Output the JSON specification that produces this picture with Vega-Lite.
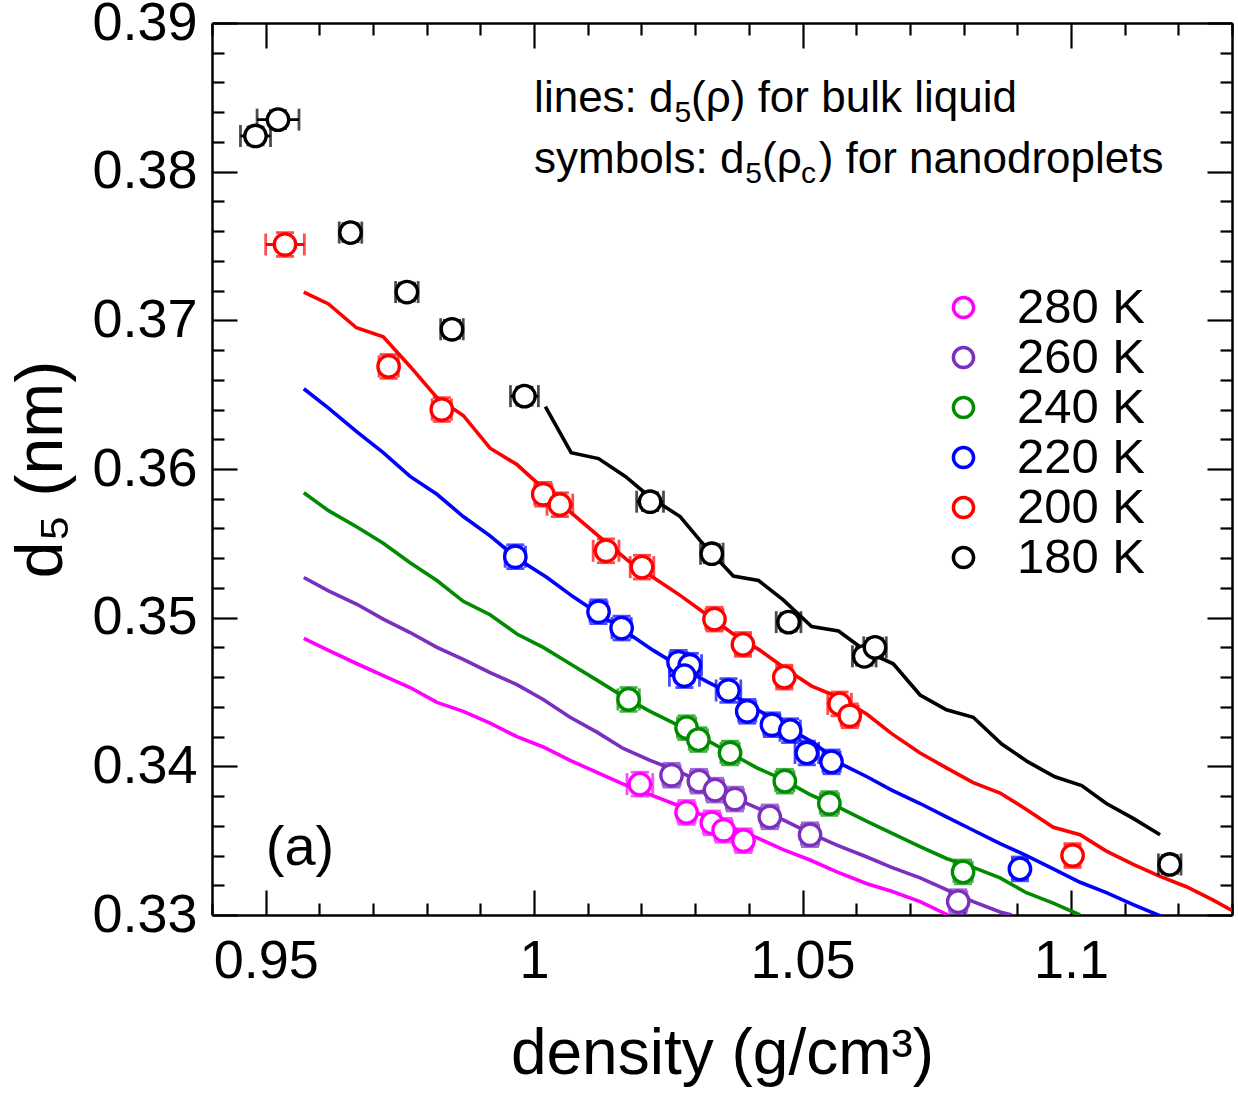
{
  "$schema": "https://vega.github.io/schema/vega-lite/v6.json",
  "autosize": {"type": "none"},
  "padding": {"left": 212, "top": 23, "right": 6, "bottom": 181},
  "width": 1020,
  "height": 892,
  "config": {
    "font": "Liberation Sans",
    "view": {"stroke": null},
    "axis": {"grid": false, "domainColor": "black", "tickColor": "black", "domainWidth": 2.5, "tickWidth": 2.2, "labelColor": "black", "titleColor": "black"},
    "legend": {
      "symbolType": "M-1,0A1,1,0,1,0,1,0A1,1,0,1,0,-1,0ZM-0.7,0A0.7,0.7,0,1,1,0.7,0A0.7,0.7,0,1,1,-0.7,0Z",
      "symbolSize": 560, "symbolStrokeWidth": 0, "symbolOpacity": 1,
      "labelFontSize": 49, "labelColor": "black", "labelOffset": 29, "rowPadding": 0, "padding": 0
    }
  },
  "datasets": {
    "bulk": [
      {"T": "180 K", "rho": 1.0021, "d5": 0.3642},
      {"T": "180 K", "rho": 1.0069, "d5": 0.3611},
      {"T": "180 K", "rho": 1.0120, "d5": 0.3607},
      {"T": "180 K", "rho": 1.0170, "d5": 0.3595},
      {"T": "180 K", "rho": 1.0216, "d5": 0.3581},
      {"T": "180 K", "rho": 1.0272, "d5": 0.3568},
      {"T": "180 K", "rho": 1.0309, "d5": 0.3552},
      {"T": "180 K", "rho": 1.0371, "d5": 0.3528},
      {"T": "180 K", "rho": 1.0418, "d5": 0.3525},
      {"T": "180 K", "rho": 1.0464, "d5": 0.3512},
      {"T": "180 K", "rho": 1.0517, "d5": 0.3494},
      {"T": "180 K", "rho": 1.0567, "d5": 0.3491},
      {"T": "180 K", "rho": 1.0620, "d5": 0.3477},
      {"T": "180 K", "rho": 1.0669, "d5": 0.3469},
      {"T": "180 K", "rho": 1.0719, "d5": 0.3448},
      {"T": "180 K", "rho": 1.0768, "d5": 0.3438},
      {"T": "180 K", "rho": 1.0818, "d5": 0.3433},
      {"T": "180 K", "rho": 1.0871, "d5": 0.3415},
      {"T": "180 K", "rho": 1.0920, "d5": 0.3403},
      {"T": "180 K", "rho": 1.0970, "d5": 0.3393},
      {"T": "180 K", "rho": 1.1020, "d5": 0.3387},
      {"T": "180 K", "rho": 1.1066, "d5": 0.3375},
      {"T": "180 K", "rho": 1.1116, "d5": 0.3365},
      {"T": "180 K", "rho": 1.1166, "d5": 0.3354},

      {"T": "200 K", "rho": 0.9571, "d5": 0.3719},
      {"T": "200 K", "rho": 0.9617, "d5": 0.3711},
      {"T": "200 K", "rho": 0.9669, "d5": 0.3695},
      {"T": "200 K", "rho": 0.9719, "d5": 0.3689},
      {"T": "200 K", "rho": 0.9769, "d5": 0.3669},
      {"T": "200 K", "rho": 0.9819, "d5": 0.3648},
      {"T": "200 K", "rho": 0.9868, "d5": 0.3636},
      {"T": "200 K", "rho": 0.9918, "d5": 0.3614},
      {"T": "200 K", "rho": 0.9968, "d5": 0.3603},
      {"T": "200 K", "rho": 1.0017, "d5": 0.3587},
      {"T": "200 K", "rho": 1.0071, "d5": 0.3570},
      {"T": "200 K", "rho": 1.0123, "d5": 0.3554},
      {"T": "200 K", "rho": 1.0176, "d5": 0.3538},
      {"T": "200 K", "rho": 1.0222, "d5": 0.3527},
      {"T": "200 K", "rho": 1.0272, "d5": 0.3515},
      {"T": "200 K", "rho": 1.0318, "d5": 0.3503},
      {"T": "200 K", "rho": 1.0371, "d5": 0.3489},
      {"T": "200 K", "rho": 1.0421, "d5": 0.3478},
      {"T": "200 K", "rho": 1.0471, "d5": 0.3465},
      {"T": "200 K", "rho": 1.0517, "d5": 0.3454},
      {"T": "200 K", "rho": 1.0570, "d5": 0.3446},
      {"T": "200 K", "rho": 1.0620, "d5": 0.3435},
      {"T": "200 K", "rho": 1.0666, "d5": 0.3422},
      {"T": "200 K", "rho": 1.0719, "d5": 0.3409},
      {"T": "200 K", "rho": 1.0768, "d5": 0.3399},
      {"T": "200 K", "rho": 1.0818, "d5": 0.3389},
      {"T": "200 K", "rho": 1.0868, "d5": 0.3382},
      {"T": "200 K", "rho": 1.0917, "d5": 0.3371},
      {"T": "200 K", "rho": 1.0967, "d5": 0.3359},
      {"T": "200 K", "rho": 1.1017, "d5": 0.3354},
      {"T": "200 K", "rho": 1.1066, "d5": 0.3343},
      {"T": "200 K", "rho": 1.1116, "d5": 0.3334},
      {"T": "200 K", "rho": 1.1166, "d5": 0.3326},
      {"T": "200 K", "rho": 1.1215, "d5": 0.3319},
      {"T": "200 K", "rho": 1.1265, "d5": 0.3310},
      {"T": "200 K", "rho": 1.1315, "d5": 0.3300},

      {"T": "220 K", "rho": 0.9571, "d5": 0.3654},
      {"T": "220 K", "rho": 0.9617, "d5": 0.3641},
      {"T": "220 K", "rho": 0.9670, "d5": 0.3625},
      {"T": "220 K", "rho": 0.9719, "d5": 0.3611},
      {"T": "220 K", "rho": 0.9769, "d5": 0.3595},
      {"T": "220 K", "rho": 0.9819, "d5": 0.3583},
      {"T": "220 K", "rho": 0.9868, "d5": 0.3568},
      {"T": "220 K", "rho": 0.9918, "d5": 0.3555},
      {"T": "220 K", "rho": 0.9968, "d5": 0.3540},
      {"T": "220 K", "rho": 1.0024, "d5": 0.3527},
      {"T": "220 K", "rho": 1.0073, "d5": 0.3514},
      {"T": "220 K", "rho": 1.0123, "d5": 0.3502},
      {"T": "220 K", "rho": 1.0173, "d5": 0.3490},
      {"T": "220 K", "rho": 1.0222, "d5": 0.3478},
      {"T": "220 K", "rho": 1.0272, "d5": 0.3467},
      {"T": "220 K", "rho": 1.0322, "d5": 0.3457},
      {"T": "220 K", "rho": 1.0371, "d5": 0.3448},
      {"T": "220 K", "rho": 1.0421, "d5": 0.3437},
      {"T": "220 K", "rho": 1.0471, "d5": 0.3426},
      {"T": "220 K", "rho": 1.0520, "d5": 0.3416},
      {"T": "220 K", "rho": 1.0570, "d5": 0.3402},
      {"T": "220 K", "rho": 1.0620, "d5": 0.3393},
      {"T": "220 K", "rho": 1.0666, "d5": 0.3384},
      {"T": "220 K", "rho": 1.0719, "d5": 0.3375},
      {"T": "220 K", "rho": 1.0768, "d5": 0.3366},
      {"T": "220 K", "rho": 1.0818, "d5": 0.3357},
      {"T": "220 K", "rho": 1.0868, "d5": 0.3348},
      {"T": "220 K", "rho": 1.0917, "d5": 0.3340},
      {"T": "220 K", "rho": 1.0967, "d5": 0.3331},
      {"T": "220 K", "rho": 1.1017, "d5": 0.3322},
      {"T": "220 K", "rho": 1.1066, "d5": 0.3315},
      {"T": "220 K", "rho": 1.1116, "d5": 0.3307},
      {"T": "220 K", "rho": 1.1169, "d5": 0.3299},

      {"T": "240 K", "rho": 0.9571, "d5": 0.3584},
      {"T": "240 K", "rho": 0.9617, "d5": 0.3572},
      {"T": "240 K", "rho": 0.9670, "d5": 0.3561},
      {"T": "240 K", "rho": 0.9719, "d5": 0.3550},
      {"T": "240 K", "rho": 0.9769, "d5": 0.3537},
      {"T": "240 K", "rho": 0.9819, "d5": 0.3525},
      {"T": "240 K", "rho": 0.9868, "d5": 0.3511},
      {"T": "240 K", "rho": 0.9918, "d5": 0.3502},
      {"T": "240 K", "rho": 0.9968, "d5": 0.3489},
      {"T": "240 K", "rho": 1.0017, "d5": 0.3480},
      {"T": "240 K", "rho": 1.0067, "d5": 0.3469},
      {"T": "240 K", "rho": 1.0117, "d5": 0.3458},
      {"T": "240 K", "rho": 1.0166, "d5": 0.3447},
      {"T": "240 K", "rho": 1.0216, "d5": 0.3437},
      {"T": "240 K", "rho": 1.0266, "d5": 0.3428},
      {"T": "240 K", "rho": 1.0315, "d5": 0.3419},
      {"T": "240 K", "rho": 1.0365, "d5": 0.3409},
      {"T": "240 K", "rho": 1.0415, "d5": 0.3399},
      {"T": "240 K", "rho": 1.0464, "d5": 0.3391},
      {"T": "240 K", "rho": 1.0514, "d5": 0.3381},
      {"T": "240 K", "rho": 1.0564, "d5": 0.3373},
      {"T": "240 K", "rho": 1.0620, "d5": 0.3363},
      {"T": "240 K", "rho": 1.0666, "d5": 0.3355},
      {"T": "240 K", "rho": 1.0719, "d5": 0.3346},
      {"T": "240 K", "rho": 1.0768, "d5": 0.3338},
      {"T": "240 K", "rho": 1.0818, "d5": 0.3332},
      {"T": "240 K", "rho": 1.0868, "d5": 0.3325},
      {"T": "240 K", "rho": 1.0917, "d5": 0.3315},
      {"T": "240 K", "rho": 1.0967, "d5": 0.3308},
      {"T": "240 K", "rho": 1.1017, "d5": 0.3300},

      {"T": "260 K", "rho": 0.9571, "d5": 0.3527},
      {"T": "260 K", "rho": 0.9617, "d5": 0.3518},
      {"T": "260 K", "rho": 0.9670, "d5": 0.3509},
      {"T": "260 K", "rho": 0.9719, "d5": 0.3499},
      {"T": "260 K", "rho": 0.9769, "d5": 0.3490},
      {"T": "260 K", "rho": 0.9819, "d5": 0.3480},
      {"T": "260 K", "rho": 0.9868, "d5": 0.3472},
      {"T": "260 K", "rho": 0.9918, "d5": 0.3463},
      {"T": "260 K", "rho": 0.9968, "d5": 0.3455},
      {"T": "260 K", "rho": 1.0017, "d5": 0.3445},
      {"T": "260 K", "rho": 1.0067, "d5": 0.3433},
      {"T": "260 K", "rho": 1.0117, "d5": 0.3423},
      {"T": "260 K", "rho": 1.0166, "d5": 0.3412},
      {"T": "260 K", "rho": 1.0216, "d5": 0.3404},
      {"T": "260 K", "rho": 1.0266, "d5": 0.3397},
      {"T": "260 K", "rho": 1.0315, "d5": 0.3389},
      {"T": "260 K", "rho": 1.0365, "d5": 0.3380},
      {"T": "260 K", "rho": 1.0415, "d5": 0.3372},
      {"T": "260 K", "rho": 1.0464, "d5": 0.3364},
      {"T": "260 K", "rho": 1.0514, "d5": 0.3355},
      {"T": "260 K", "rho": 1.0564, "d5": 0.3347},
      {"T": "260 K", "rho": 1.0620, "d5": 0.3339},
      {"T": "260 K", "rho": 1.0666, "d5": 0.3332},
      {"T": "260 K", "rho": 1.0719, "d5": 0.3325},
      {"T": "260 K", "rho": 1.0768, "d5": 0.3317},
      {"T": "260 K", "rho": 1.0818, "d5": 0.3309},
      {"T": "260 K", "rho": 1.0868, "d5": 0.3302},
      {"T": "260 K", "rho": 1.0890, "d5": 0.3300},

      {"T": "280 K", "rho": 0.9571, "d5": 0.3486},
      {"T": "280 K", "rho": 0.9617, "d5": 0.3478},
      {"T": "280 K", "rho": 0.9670, "d5": 0.3469},
      {"T": "280 K", "rho": 0.9719, "d5": 0.3461},
      {"T": "280 K", "rho": 0.9769, "d5": 0.3453},
      {"T": "280 K", "rho": 0.9819, "d5": 0.3443},
      {"T": "280 K", "rho": 0.9868, "d5": 0.3437},
      {"T": "280 K", "rho": 0.9918, "d5": 0.3429},
      {"T": "280 K", "rho": 0.9968, "d5": 0.3420},
      {"T": "280 K", "rho": 1.0017, "d5": 0.3413},
      {"T": "280 K", "rho": 1.0067, "d5": 0.3404},
      {"T": "280 K", "rho": 1.0117, "d5": 0.3396},
      {"T": "280 K", "rho": 1.0166, "d5": 0.3388},
      {"T": "280 K", "rho": 1.0216, "d5": 0.3381},
      {"T": "280 K", "rho": 1.0266, "d5": 0.3374},
      {"T": "280 K", "rho": 1.0315, "d5": 0.3367},
      {"T": "280 K", "rho": 1.0365, "d5": 0.3359},
      {"T": "280 K", "rho": 1.0415, "d5": 0.3352},
      {"T": "280 K", "rho": 1.0464, "d5": 0.3344},
      {"T": "280 K", "rho": 1.0514, "d5": 0.3337},
      {"T": "280 K", "rho": 1.0564, "d5": 0.3329},
      {"T": "280 K", "rho": 1.0620, "d5": 0.3321},
      {"T": "280 K", "rho": 1.0666, "d5": 0.3316},
      {"T": "280 K", "rho": 1.0719, "d5": 0.3309},
      {"T": "280 K", "rho": 1.0771, "d5": 0.3300}
    ],
    "drops": [
      {"T": "180 K", "rho": 0.9481, "d5": 0.3824, "rlo": 0.9453, "rhi": 0.9509, "dlo": 0.3818, "dhi": 0.3830},
      {"T": "180 K", "rho": 0.9523, "d5": 0.3835, "rlo": 0.9484, "rhi": 0.9562, "dlo": 0.3829, "dhi": 0.3841},
      {"T": "180 K", "rho": 0.9658, "d5": 0.3759, "rlo": 0.9637, "rhi": 0.9679, "dlo": 0.3753, "dhi": 0.3765},
      {"T": "180 K", "rho": 0.9763, "d5": 0.3719, "rlo": 0.9742, "rhi": 0.9784, "dlo": 0.3713, "dhi": 0.3725},
      {"T": "180 K", "rho": 0.9847, "d5": 0.3694, "rlo": 0.9826, "rhi": 0.9868, "dlo": 0.3688, "dhi": 0.3700},
      {"T": "180 K", "rho": 0.9982, "d5": 0.3649, "rlo": 0.9956, "rhi": 1.0008, "dlo": 0.3643, "dhi": 0.3655},
      {"T": "180 K", "rho": 1.0216, "d5": 0.3578, "rlo": 1.0191, "rhi": 1.0241, "dlo": 0.3572, "dhi": 0.3584},
      {"T": "180 K", "rho": 1.0331, "d5": 0.3543, "rlo": 1.0310, "rhi": 1.0352, "dlo": 0.3537, "dhi": 0.3549},
      {"T": "180 K", "rho": 1.0474, "d5": 0.3497, "rlo": 1.0451, "rhi": 1.0497, "dlo": 0.3491, "dhi": 0.3503},
      {"T": "180 K", "rho": 1.0615, "d5": 0.3474, "rlo": 1.0593, "rhi": 1.0637, "dlo": 0.3468, "dhi": 0.3480},
      {"T": "180 K", "rho": 1.0635, "d5": 0.3480, "rlo": 1.0614, "rhi": 1.0656, "dlo": 0.3474, "dhi": 0.3486},
      {"T": "180 K", "rho": 1.1184, "d5": 0.3334, "rlo": 1.1163, "rhi": 1.1205, "dlo": 0.3328, "dhi": 0.3340},

      {"T": "200 K", "rho": 0.9536, "d5": 0.3751, "rlo": 0.9500, "rhi": 0.9572, "dlo": 0.3743, "dhi": 0.3759},
      {"T": "200 K", "rho": 0.9729, "d5": 0.3669, "rlo": 0.9711, "rhi": 0.9747, "dlo": 0.3661, "dhi": 0.3677},
      {"T": "200 K", "rho": 0.9828, "d5": 0.3640, "rlo": 0.9810, "rhi": 0.9846, "dlo": 0.3632, "dhi": 0.3648},
      {"T": "200 K", "rho": 1.0017, "d5": 0.3583, "rlo": 1.0001, "rhi": 1.0033, "dlo": 0.3575, "dhi": 0.3591},
      {"T": "200 K", "rho": 1.0048, "d5": 0.3576, "rlo": 1.0024, "rhi": 1.0072, "dlo": 0.3568, "dhi": 0.3584},
      {"T": "200 K", "rho": 1.0134, "d5": 0.3545, "rlo": 1.0110, "rhi": 1.0158, "dlo": 0.3537, "dhi": 0.3553},
      {"T": "200 K", "rho": 1.0201, "d5": 0.3534, "rlo": 1.0179, "rhi": 1.0223, "dlo": 0.3526, "dhi": 0.3542},
      {"T": "200 K", "rho": 1.0336, "d5": 0.3499, "rlo": 1.0320, "rhi": 1.0352, "dlo": 0.3491, "dhi": 0.3507},
      {"T": "200 K", "rho": 1.0389, "d5": 0.3482, "rlo": 1.0375, "rhi": 1.0403, "dlo": 0.3474, "dhi": 0.3490},
      {"T": "200 K", "rho": 1.0466, "d5": 0.3460, "rlo": 1.0452, "rhi": 1.0480, "dlo": 0.3452, "dhi": 0.3468},
      {"T": "200 K", "rho": 1.0569, "d5": 0.3442, "rlo": 1.0547, "rhi": 1.0591, "dlo": 0.3434, "dhi": 0.3450},
      {"T": "200 K", "rho": 1.0588, "d5": 0.3434, "rlo": 1.0572, "rhi": 1.0604, "dlo": 0.3426, "dhi": 0.3442},
      {"T": "200 K", "rho": 1.1003, "d5": 0.3340, "rlo": 1.0989, "rhi": 1.1017, "dlo": 0.3332, "dhi": 0.3348},

      {"T": "220 K", "rho": 0.9965, "d5": 0.3541, "rlo": 0.9946, "rhi": 0.9984, "dlo": 0.3533, "dhi": 0.3549},
      {"T": "220 K", "rho": 1.0120, "d5": 0.3504, "rlo": 1.0104, "rhi": 1.0136, "dlo": 0.3496, "dhi": 0.3512},
      {"T": "220 K", "rho": 1.0163, "d5": 0.3493, "rlo": 1.0145, "rhi": 1.0181, "dlo": 0.3485, "dhi": 0.3501},
      {"T": "220 K", "rho": 1.0269, "d5": 0.3470, "rlo": 1.0253, "rhi": 1.0285, "dlo": 0.3462, "dhi": 0.3478},
      {"T": "220 K", "rho": 1.0290, "d5": 0.3468, "rlo": 1.0268, "rhi": 1.0312, "dlo": 0.3460, "dhi": 0.3476},
      {"T": "220 K", "rho": 1.0280, "d5": 0.3461, "rlo": 1.0252, "rhi": 1.0308, "dlo": 0.3453, "dhi": 0.3469},
      {"T": "220 K", "rho": 1.0362, "d5": 0.3451, "rlo": 1.0339, "rhi": 1.0385, "dlo": 0.3443, "dhi": 0.3459},
      {"T": "220 K", "rho": 1.0397, "d5": 0.3437, "rlo": 1.0381, "rhi": 1.0413, "dlo": 0.3429, "dhi": 0.3445},
      {"T": "220 K", "rho": 1.0443, "d5": 0.3428, "rlo": 1.0428, "rhi": 1.0458, "dlo": 0.3420, "dhi": 0.3436},
      {"T": "220 K", "rho": 1.0477, "d5": 0.3424, "rlo": 1.0458, "rhi": 1.0496, "dlo": 0.3416, "dhi": 0.3432},
      {"T": "220 K", "rho": 1.0508, "d5": 0.3409, "rlo": 1.0486, "rhi": 1.0530, "dlo": 0.3401, "dhi": 0.3417},
      {"T": "220 K", "rho": 1.0554, "d5": 0.3403, "rlo": 1.0538, "rhi": 1.0570, "dlo": 0.3395, "dhi": 0.3411},
      {"T": "220 K", "rho": 1.0905, "d5": 0.3331, "rlo": 1.0891, "rhi": 1.0919, "dlo": 0.3323, "dhi": 0.3339},

      {"T": "240 K", "rho": 1.0176, "d5": 0.3445, "rlo": 1.0156, "rhi": 1.0196, "dlo": 0.3437, "dhi": 0.3453},
      {"T": "240 K", "rho": 1.0284, "d5": 0.3426, "rlo": 1.0267, "rhi": 1.0301, "dlo": 0.3418, "dhi": 0.3434},
      {"T": "240 K", "rho": 1.0306, "d5": 0.3418, "rlo": 1.0289, "rhi": 1.0323, "dlo": 0.3410, "dhi": 0.3426},
      {"T": "240 K", "rho": 1.0365, "d5": 0.3409, "rlo": 1.0348, "rhi": 1.0382, "dlo": 0.3401, "dhi": 0.3417},
      {"T": "240 K", "rho": 1.0467, "d5": 0.3390, "rlo": 1.0450, "rhi": 1.0484, "dlo": 0.3382, "dhi": 0.3398},
      {"T": "240 K", "rho": 1.0550, "d5": 0.3375, "rlo": 1.0533, "rhi": 1.0567, "dlo": 0.3367, "dhi": 0.3383},
      {"T": "240 K", "rho": 1.0799, "d5": 0.3329, "rlo": 1.0782, "rhi": 1.0816, "dlo": 0.3321, "dhi": 0.3337},

      {"T": "260 K", "rho": 1.0256, "d5": 0.3394, "rlo": 1.0240, "rhi": 1.0272, "dlo": 0.3386, "dhi": 0.3402},
      {"T": "260 K", "rho": 1.0307, "d5": 0.3390, "rlo": 1.0291, "rhi": 1.0323, "dlo": 0.3382, "dhi": 0.3398},
      {"T": "260 K", "rho": 1.0337, "d5": 0.3384, "rlo": 1.0321, "rhi": 1.0353, "dlo": 0.3376, "dhi": 0.3392},
      {"T": "260 K", "rho": 1.0374, "d5": 0.3378, "rlo": 1.0358, "rhi": 1.0390, "dlo": 0.3370, "dhi": 0.3386},
      {"T": "260 K", "rho": 1.0439, "d5": 0.3366, "rlo": 1.0423, "rhi": 1.0455, "dlo": 0.3358, "dhi": 0.3374},
      {"T": "260 K", "rho": 1.0514, "d5": 0.3354, "rlo": 1.0498, "rhi": 1.0530, "dlo": 0.3346, "dhi": 0.3362},
      {"T": "260 K", "rho": 1.0790, "d5": 0.3309, "rlo": 1.0774, "rhi": 1.0806, "dlo": 0.3301, "dhi": 0.3317},

      {"T": "280 K", "rho": 1.0197, "d5": 0.3388, "rlo": 1.0173, "rhi": 1.0221, "dlo": 0.3380, "dhi": 0.3396},
      {"T": "280 K", "rho": 1.0284, "d5": 0.3369, "rlo": 1.0268, "rhi": 1.0300, "dlo": 0.3361, "dhi": 0.3377},
      {"T": "280 K", "rho": 1.0331, "d5": 0.3362, "rlo": 1.0315, "rhi": 1.0347, "dlo": 0.3354, "dhi": 0.3370},
      {"T": "280 K", "rho": 1.0353, "d5": 0.3357, "rlo": 1.0337, "rhi": 1.0369, "dlo": 0.3349, "dhi": 0.3365},
      {"T": "280 K", "rho": 1.0390, "d5": 0.3350, "rlo": 1.0374, "rhi": 1.0406, "dlo": 0.3342, "dhi": 0.3358}
    ]
  },
  "resolve": {"axis": {"x": "independent", "y": "independent"}},
  "layer": [
    {
      "layer": [
        {
          "data": {"name": "bulk"},
          "mark": {"type": "line", "strokeWidth": 3.6, "clip": true},
          "encoding": {
            "x": {
              "field": "rho", "type": "quantitative", "title": "density (g/cm³)",
              "scale": {"domain": [0.94, 1.13], "nice": false, "zero": false},
              "axis": {
                "orient": "bottom",
                "values": [0.95, 1.0, 1.05, 1.1],
                "tickSize": -25, "labelPadding": 44,
                "labelFontSize": 54, "labelExpr": "format(datum.value, '.2~f')",
                "titleFontSize": 64, "titleFontWeight": "normal", "titlePadding": 34
              }
            },
            "y": {
              "field": "d5", "type": "quantitative", "title": "d₅ (nm)",
              "scale": {"domain": [0.33, 0.39], "nice": false, "zero": false},
              "axis": {
                "orient": "left",
                "values": [0.33, 0.34, 0.35, 0.36, 0.37, 0.38, 0.39],
                "tickSize": -25, "labelPadding": 40,
                "labelFontSize": 54, "labelExpr": "format(datum.value, '.2f')",
                "titleFontSize": 66, "titleFontWeight": "normal", "titlePadding": 16
              }
            },
            "detail": {"field": "T"},
            "stroke": {
              "field": "T", "type": "nominal",
              "scale": {"domain": ["280 K", "260 K", "240 K", "220 K", "200 K", "180 K"], "range": ["#ff00ff", "#7b2fbe", "#008b00", "#0000ff", "#ff0000", "#000000"]},
              "legend": {"orient": "none", "legendX": 727, "legendY": 260, "title": null}
            }
          }
        },
        {
          "data": {"name": "drops"},
          "mark": {"type": "errorbar", "ticks": {"size": 22}, "thickness": 2.8},
          "encoding": {
            "x": {"field": "rlo", "type": "quantitative", "title": "density (g/cm³)"},
            "x2": {"field": "rhi"},
            "y": {"field": "d5", "type": "quantitative", "title": "d₅ (nm)"},
            "color": {
              "field": "T", "type": "nominal", "legend": null,
              "scale": {"domain": ["280 K", "260 K", "240 K", "220 K", "200 K", "180 K"], "range": ["#ff00ff", "#7b2fbe", "#008b00", "#0000ff", "#ff0000", "#000000"]}
            }
          }
        },
        {
          "data": {"name": "drops"},
          "mark": {"type": "errorbar", "ticks": {"size": 18}, "thickness": 2.8},
          "encoding": {
            "y": {"field": "dlo", "type": "quantitative", "title": "d₅ (nm)"},
            "y2": {"field": "dhi"},
            "x": {"field": "rho", "type": "quantitative", "title": "density (g/cm³)"},
            "color": {"field": "T", "type": "nominal", "legend": null}
          }
        },
        {
          "data": {"name": "drops"},
          "mark": {"type": "point", "shape": "circle", "filled": false, "fill": "white", "fillOpacity": 1, "size": 460, "strokeWidth": 3.3, "opacity": 1},
          "encoding": {
            "x": {"field": "rho", "type": "quantitative", "title": "density (g/cm³)"},
            "y": {"field": "d5", "type": "quantitative", "title": "d₅ (nm)"},
            "stroke": {"field": "T", "type": "nominal"}
          }
        },
        {
          "data": {"values": [{}]},
          "mark": {"type": "text", "fontSize": 44, "align": "left", "baseline": "alphabetic", "color": "black"},
          "encoding": {"x": {"datum": 1.0}, "y": {"datum": 0.3840}, "text": {"value": "lines: d"}}
        },
        {
          "data": {"values": [{}]},
          "mark": {"type": "text", "fontSize": 30, "align": "left", "baseline": "alphabetic", "color": "black"},
          "encoding": {"x": {"datum": 1.02615}, "y": {"datum": 0.38333}, "text": {"value": "5"}}
        },
        {
          "data": {"values": [{}]},
          "mark": {"type": "text", "fontSize": 44, "align": "left", "baseline": "alphabetic", "color": "black"},
          "encoding": {"x": {"datum": 1.02924}, "y": {"datum": 0.3840}, "text": {"value": "(ρ) for bulk liquid"}}
        },
        {
          "data": {"values": [{}]},
          "mark": {"type": "text", "fontSize": 44, "align": "left", "baseline": "alphabetic", "color": "black"},
          "encoding": {"x": {"datum": 1.0}, "y": {"datum": 0.3799}, "text": {"value": "symbols: d"}}
        },
        {
          "data": {"values": [{}]},
          "mark": {"type": "text", "fontSize": 30, "align": "left", "baseline": "alphabetic", "color": "black"},
          "encoding": {"x": {"datum": 1.03935}, "y": {"datum": 0.37923}, "text": {"value": "5"}}
        },
        {
          "data": {"values": [{}]},
          "mark": {"type": "text", "fontSize": 44, "align": "left", "baseline": "alphabetic", "color": "black"},
          "encoding": {"x": {"datum": 1.04246}, "y": {"datum": 0.3799}, "text": {"value": "(ρ"}}
        },
        {
          "data": {"values": [{}]},
          "mark": {"type": "text", "fontSize": 30, "align": "left", "baseline": "alphabetic", "color": "black"},
          "encoding": {"x": {"datum": 1.0497}, "y": {"datum": 0.37923}, "text": {"value": "c"}}
        },
        {
          "data": {"values": [{}]},
          "mark": {"type": "text", "fontSize": 44, "align": "left", "baseline": "alphabetic", "color": "black"},
          "encoding": {"x": {"datum": 1.0530}, "y": {"datum": 0.3799}, "text": {"value": ") for nanodroplets"}}
        },
        {
          "data": {"values": [{}]},
          "mark": {"type": "text", "fontSize": 56, "align": "center", "baseline": "middle", "color": "black"},
          "encoding": {"x": {"datum": 0.9564}, "y": {"datum": 0.3345}, "text": {"value": "(a)"}}
        }
      ]
    },
    {
      "data": {"name": "drops"},
      "mark": {"type": "point", "opacity": 0},
      "encoding": {
        "x": {"field": "rho", "type": "quantitative", "axis": {"orient": "top", "values": [0.95, 1.0, 1.05, 1.1], "tickSize": -25, "labels": false, "title": null}},
        "y": {"field": "d5", "type": "quantitative", "axis": {"orient": "right", "values": [0.33, 0.34, 0.35, 0.36, 0.37, 0.38, 0.39], "tickSize": -25, "labels": false, "title": null}}
      }
    },
    {
      "data": {"name": "drops"},
      "mark": {"type": "point", "opacity": 0},
      "encoding": {
        "x": {"field": "rho", "type": "quantitative", "axis": {"orient": "bottom", "values": [0.94, 0.96, 0.97, 0.98, 0.99, 1.01, 1.02, 1.03, 1.04, 1.06, 1.07, 1.08, 1.09, 1.11, 1.12, 1.13], "tickSize": -12, "labels": false, "domain": false, "title": null}},
        "y": {"field": "d5", "type": "quantitative", "axis": {"orient": "left", "values": [0.332, 0.334, 0.336, 0.338, 0.342, 0.344, 0.346, 0.348, 0.352, 0.354, 0.356, 0.358, 0.362, 0.364, 0.366, 0.368, 0.372, 0.374, 0.376, 0.378, 0.382, 0.384, 0.386, 0.388], "tickSize": -12, "labels": false, "domain": false, "title": null}}
      }
    },
    {
      "data": {"name": "drops"},
      "mark": {"type": "point", "opacity": 0},
      "encoding": {
        "x": {"field": "rho", "type": "quantitative", "axis": {"orient": "top", "values": [0.94, 0.96, 0.97, 0.98, 0.99, 1.01, 1.02, 1.03, 1.04, 1.06, 1.07, 1.08, 1.09, 1.11, 1.12, 1.13], "tickSize": -12, "labels": false, "domain": false, "title": null}},
        "y": {"field": "d5", "type": "quantitative", "axis": {"orient": "right", "values": [0.332, 0.334, 0.336, 0.338, 0.342, 0.344, 0.346, 0.348, 0.352, 0.354, 0.356, 0.358, 0.362, 0.364, 0.366, 0.368, 0.372, 0.374, 0.376, 0.378, 0.382, 0.384, 0.386, 0.388], "tickSize": -12, "labels": false, "domain": false, "title": null}}
      }
    }
  ]
}
